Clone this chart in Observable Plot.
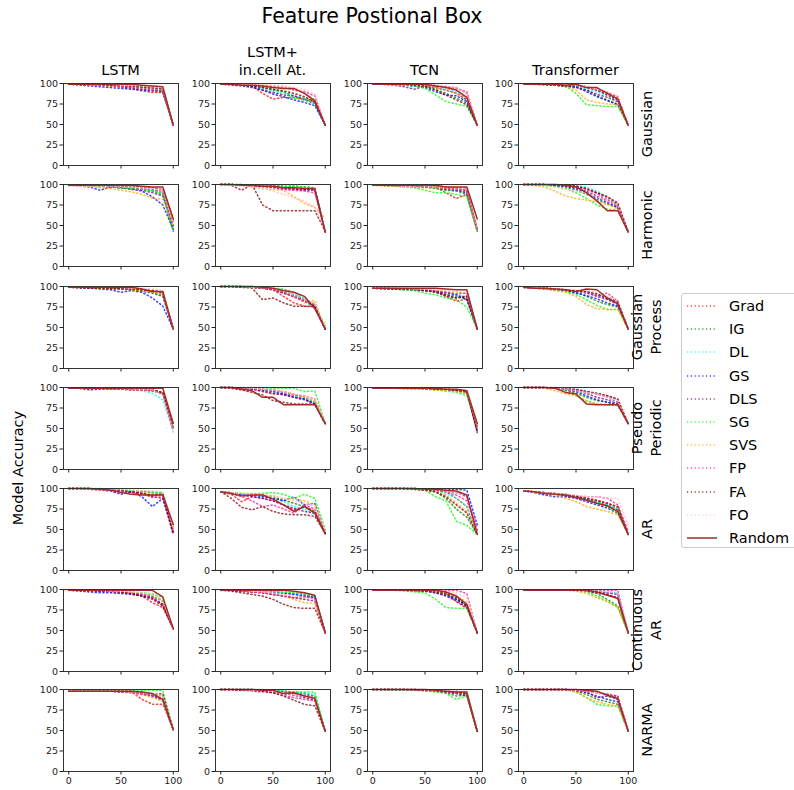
<!DOCTYPE html>
<html><head><meta charset="utf-8">
<script src="https://cdn.jsdelivr.net/npm/d3@7"></script>
<script src="https://cdn.jsdelivr.net/npm/@observablehq/plot@0.6"></script>
<style>
body{margin:0;background:#fff;overflow:hidden;}
#fig{position:relative;width:794px;height:790px;font-family:"DejaVu Sans",sans-serif;color:#000;overflow:hidden;background:#fff;}
.abs{position:absolute;white-space:nowrap;}
.ctr{transform:translateX(-50%);text-align:center;}
.rot{position:absolute;transform:translate(-50%,-50%) rotate(-90deg);white-space:nowrap;text-align:center;}
.panel{position:absolute;}
</style>
</head><body><div id="fig"></div>
<script>
// ---------------- data ----------------
const methods = ["Grad","IG","DL","GS","DLS","SG","SVS","FP","FA","FO","Random"];
const models = ["LSTM", "LSTM+\nin.cell At.", "TCN", "Transformer"];
const datasets = ["Gaussian","Harmonic","Gaussian\nProcess","Pseudo\nPeriodic","AR","Continuous\nAR","NARMA"];
const xSteps = [0,10,20,30,40,50,60,70,80,90,100];
const xTicks = [0,50,100];
const yTicks = [0,25,50,75,100];

// each panel: rows in method order (Grad, IG, DL, GS, DLS, SG, SVS, FP, FA, FO, Random)
const gauss_lstm = [
 [99,99,98,98,97,96,94,91,89,89,49],[99,99,99,98,98,97,96,95,93,91,49],[99,99,99,98,98,97,96,95,94,92,49],
 [99,98,97,96,95,94,93,92,91,90,49],[99,99,98,98,97,96,95,93,92,91,49],[99,99,99,99,98,98,97,96,95,93,49],
 [99,99,98,98,97,97,96,95,93,92,49],[99,99,99,98,98,97,96,95,94,93,49],[99,99,99,99,98,98,97,96,95,94,49],
 [99,99,99,99,99,98,98,97,96,95,49],[99,99,99,99,99,99,99,98,97,96,49]];
const gauss_att = [
 [99,99,98,97,88,81,83,83,81,78,49],[99,99,98,97,95,92,90,85,82,78,49],[99,99,98,97,94,90,88,85,82,75,49],
 [99,99,98,96,92,87,84,80,77,73,49],[99,98,97,95,92,89,86,85,80,76,49],[99,99,98,98,96,93,90,82,80,77,49],
 [99,99,99,99,98,97,97,93,88,80,49],[99,99,99,98,97,96,95,92,90,85,49],[99,99,98,97,95,93,91,88,84,78,49],
 [99,99,99,99,99,98,97,95,93,87,49],[99,99,98,98,97,95,94,94,88,79,49]];
const gauss_tcn = [
 [99,99,99,99,99,98,97,96,95,88,49],[99,99,99,98,97,96,93,88,82,76,49],[99,99,99,98,97,97,95,93,90,80,49],
 [99,99,99,98,97,95,90,86,85,78,49],[99,99,98,96,93,97,95,92,88,80,49],[99,99,98,98,97,94,86,78,75,72,49],
 [99,99,99,98,98,97,95,92,88,82,49],[99,99,99,99,99,99,98,96,94,90,49],[99,99,99,99,98,97,92,86,80,74,49],
 [99,99,99,99,99,99,98,97,95,88,49],[99,99,99,99,99,99,97,95,92,83,49]];
const gauss_tf = [
 [99,99,99,98,97,97,96,93,89,84,49],[99,99,98,98,97,96,92,85,80,75,49],[99,99,99,98,98,97,94,90,85,78,49],
 [99,99,99,98,97,96,90,84,79,74,49],[99,99,99,98,96,95,92,87,83,78,49],[99,99,99,98,97,88,74,73,72,72,49],
 [99,99,99,98,97,92,80,77,75,74,49],[99,99,99,99,98,99,96,92,88,82,49],[99,99,99,98,97,98,95,92,86,80,49],
 [99,99,99,99,99,98,96,93,90,85,49],[99,99,99,99,98,99,95,95,88,81,49]];

const harm_lstm = [
 [99,99,99,98,98,97,96,95,93,90,45],[99,99,98,98,97,96,95,94,92,88,43],[99,99,99,98,98,97,96,95,93,90,48],
 [99,98,97,93,97,96,94,92,85,75,45],[99,99,98,98,97,96,95,93,90,86,50],[99,99,98,97,97,96,95,94,92,88,44],
 [99,99,98,96,95,93,91,88,83,82,50],[99,99,99,99,98,98,97,96,94,92,55],[99,99,99,99,99,98,98,97,96,94,58],
 [98,98,98,98,98,97,97,96,95,93,55],[99,99,99,99,99,99,99,98,97,97,58]];
const harm_att = [
 [100,100,99,99,98,97,96,95,94,93,42],[100,100,100,99,99,99,98,98,97,96,42],[100,100,99,99,99,98,97,96,96,95,42],
 [100,100,99,99,98,97,95,94,93,95,42],[100,100,99,99,98,97,96,95,94,93,42],[100,100,100,99,99,99,98,98,97,96,42],
 [100,99,99,97,95,94,93,85,77,72,59],[100,100,99,98,97,96,94,93,92,90,42],[100,99,93,100,75,68,68,68,68,68,43],
 [99,99,98,97,95,92,88,84,80,72,45],[100,100,99,99,98,98,96,96,95,95,42]];
const harm_tcn = [
 [99,99,99,99,98,98,97,90,83,88,43],[99,99,99,98,98,97,95,93,92,88,43],[99,99,99,98,98,98,97,96,95,93,45],
 [99,99,98,98,97,97,96,94,93,90,45],[99,99,98,98,98,97,97,95,93,92,45],[99,99,98,97,96,93,90,90,88,85,43],
 [99,98,98,97,97,96,96,95,94,93,45],[99,99,99,98,98,97,97,96,95,93,45],[99,99,99,99,98,98,98,97,96,95,45],
 [99,99,99,98,98,98,97,97,96,95,45],[99,99,99,99,99,99,99,97,97,97,58]];
const harm_tf = [
 [100,100,100,99,99,98,95,90,85,78,42],[100,100,99,98,97,93,88,82,76,72,42],[100,100,100,100,100,99,97,92,85,76,42],
 [100,100,100,99,98,95,90,84,78,72,42],[100,100,100,99,98,96,92,86,80,74,42],[100,100,99,97,95,90,83,75,70,69,42],
 [100,99,97,92,86,83,81,79,76,70,42],[100,100,100,99,99,97,94,89,82,74,42],[100,100,100,99,99,98,95,90,85,76,42],
 [100,100,99,97,94,92,90,85,80,75,42],[100,100,100,100,99,97,90,80,68,68,42]];

const gp_lstm = [
 [99,99,99,99,98,98,97,96,95,92,48],[99,99,99,98,98,97,96,95,93,90,48],[99,99,99,98,98,97,96,95,92,88,48],
 [99,99,98,97,96,93,95,93,86,76,48],[99,99,98,98,97,97,96,94,92,88,48],[99,99,99,98,98,97,96,95,93,90,50],
 [99,99,99,98,98,97,96,95,93,90,48],[99,99,99,99,98,98,97,96,95,93,48],[99,98,98,98,98,97,97,96,95,93,48],
 [99,99,99,99,99,99,98,98,97,96,48],[99,99,99,99,99,99,99,97,94,94,48]];
const gp_att = [
 [100,100,100,99,98,96,88,80,76,75,48],[100,100,100,99,98,96,92,88,82,75,48],[100,100,100,99,99,97,94,90,85,78,48],
 [100,100,100,99,98,97,94,90,84,76,48],[100,100,99,99,98,96,92,88,83,76,48],[100,100,100,100,99,98,97,93,85,78,52],
 [100,100,100,99,98,97,94,88,80,83,48],[100,100,100,99,98,96,93,87,82,78,48],[100,100,99,98,84,86,80,76,76,76,48],
 [100,100,100,99,99,98,95,90,84,80,48],[100,100,100,100,99,98,95,93,88,73,48]];
const gp_tcn = [
 [98,98,98,97,97,97,95,88,82,85,48],[98,97,97,97,96,95,93,90,88,85,48],[98,98,97,97,97,96,95,93,90,88,48],
 [98,98,97,97,96,95,94,92,90,84,48],[98,97,97,96,96,95,93,88,86,88,48],[98,98,97,96,95,92,90,86,84,75,48],
 [98,98,98,97,97,96,95,94,93,92,48],[98,98,97,97,97,96,95,93,91,92,48],[98,98,97,97,96,95,94,90,86,88,48],
 [98,98,98,98,97,97,96,95,94,93,48],[98,98,98,98,98,98,98,97,96,96,48]];
const gp_tf = [
 [99,98,98,97,96,95,94,90,85,80,48],[99,98,97,96,95,93,88,82,78,75,48],[99,98,98,97,96,95,93,90,86,80,48],
 [99,98,97,96,95,92,89,85,80,76,48],[99,98,98,97,96,94,92,88,84,78,48],[99,98,97,96,94,90,84,77,72,72,48],
 [99,98,97,95,93,88,78,73,72,72,48],[99,98,98,97,96,95,94,88,92,82,48],[99,99,98,97,96,95,94,91,86,82,48],
 [99,99,98,97,97,96,95,93,88,83,48],[99,98,98,97,96,94,97,96,86,79,48]];

const pp_lstm = [
 [99,99,99,99,99,99,99,98,97,93,50],[99,99,99,99,99,98,98,98,97,94,52],[99,99,99,99,99,98,97,96,93,85,46],
 [99,99,97,98,98,98,98,97,96,92,48],[99,99,99,99,98,98,97,97,96,92,48],[99,99,99,99,99,98,98,97,96,93,52],
 [99,99,99,99,98,98,97,97,96,93,50],[99,99,99,99,98,98,97,97,96,93,48],[99,99,99,99,99,99,98,98,97,94,55],
 [99,99,99,99,99,99,98,98,97,90,45],[99,99,99,99,99,99,99,99,99,99,56]];
const pp_att = [
 [100,100,99,98,95,92,92,90,86,80,56],[100,100,99,99,98,97,95,92,88,82,56],[100,100,99,99,98,96,94,90,86,82,56],
 [100,100,99,98,97,95,92,88,86,80,56],[100,100,99,98,96,93,91,88,85,80,56],[100,100,100,100,100,99,99,99,95,96,56],
 [100,100,99,99,98,97,95,92,88,84,56],[100,100,99,99,98,97,94,91,90,86,56],[100,99,97,94,91,84,82,80,80,80,56],
 [100,100,100,99,98,97,95,92,90,86,56],[100,100,98,96,88,88,79,79,79,79,56]];
const pp_tcn = [
 [99,99,99,99,99,99,98,98,97,96,52],[99,99,99,99,99,98,98,97,96,93,50],[99,99,99,99,99,98,98,97,96,94,50],
 [99,99,99,99,99,98,98,97,96,95,48],[99,99,99,99,99,98,98,97,96,94,45],[99,99,99,99,98,98,97,96,94,90,52],
 [99,99,99,98,98,98,97,96,95,93,52],[99,99,99,99,99,99,98,98,97,96,52],[99,99,99,99,99,99,98,98,97,96,45],
 [99,99,99,99,99,99,99,98,98,97,55],[99,99,99,99,99,99,99,98,98,96,56]];
const pp_tf = [
 [100,100,100,99,98,97,95,92,90,85,56],[100,100,100,99,97,93,88,84,82,80,56],[100,100,100,100,99,98,96,93,88,82,56],
 [100,100,100,99,97,95,90,85,82,78,56],[100,100,100,99,98,96,93,88,85,80,56],[100,100,100,99,96,90,84,80,79,78,56],
 [100,100,99,96,92,90,83,80,79,78,56],[100,100,100,100,99,98,95,92,88,82,56],[100,100,100,99,98,97,95,93,90,86,56],
 [100,100,100,99,98,96,94,92,88,84,56],[100,100,100,99,94,92,80,79,79,79,56]];

const ar_lstm = [
 [100,100,100,99,98,97,96,94,90,88,48],[100,100,100,99,99,98,97,96,95,94,50],[100,100,100,99,99,98,97,96,96,95,52],
 [100,100,99,98,97,93,96,90,78,88,44],[100,100,100,99,98,97,95,94,92,93,46],[100,100,100,100,99,98,98,97,96,95,54],
 [100,100,99,98,98,97,96,95,94,94,50],[100,100,100,99,98,97,96,94,89,90,48],[100,100,100,99,99,98,96,94,91,93,44],
 [100,100,100,100,99,99,98,98,97,96,52],[100,100,100,99,98,95,93,92,92,92,56]];
const ar_att = [
 [96,93,84,90,88,85,80,74,78,72,45],[96,95,93,93,92,90,86,82,78,72,45],[96,95,93,92,91,88,84,78,75,68,45],
 [96,95,93,92,90,88,85,90,80,82,45],[96,94,92,90,88,85,80,76,72,70,45],[96,95,94,94,94,95,93,88,93,88,50],
 [96,95,94,93,92,91,88,87,85,80,48],[96,94,90,85,78,80,75,70,80,75,45],[96,88,77,74,78,72,69,68,68,66,45],
 [96,95,94,93,92,90,88,85,82,78,48],[96,94,91,92,92,87,80,72,78,70,45]];
const ar_tcn = [
 [100,100,100,100,99,99,98,96,88,78,44],[100,100,100,100,99,98,96,88,75,65,44],[100,100,100,100,99,98,97,94,88,78,44],
 [100,100,100,100,100,99,99,98,99,98,56],[100,100,100,100,100,99,98,97,95,90,50],[100,100,100,100,99,98,90,85,60,55,44],
 [100,100,100,100,99,98,96,92,82,72,48],[100,100,100,100,100,99,98,96,92,85,52],[100,100,100,100,99,98,96,90,80,70,44],
 [100,100,100,100,100,99,99,97,95,88,50],[100,100,100,100,100,99,99,98,97,92,44]];
const ar_tf = [
 [97,96,95,93,92,90,88,86,82,76,44],[97,96,95,93,92,90,87,84,80,74,44],[97,96,94,93,92,90,87,84,80,76,44],
 [97,95,92,90,90,88,84,80,76,70,44],[97,96,94,93,91,89,86,82,78,72,44],[97,96,95,94,93,90,86,82,78,70,44],
 [97,96,94,92,88,84,78,75,72,68,44],[97,96,95,94,92,91,90,90,88,80,48],[97,96,95,94,93,91,88,85,82,78,44],
 [97,96,95,94,93,92,90,90,88,88,55],[97,96,94,93,92,89,86,82,79,72,44]];

const car_lstm = [
 [99,99,99,98,98,97,95,92,84,78,52],[99,99,99,98,98,97,96,95,92,86,52],[99,99,99,98,98,97,96,95,94,88,52],
 [99,98,97,96,96,95,94,92,90,82,52],[99,99,98,98,97,96,95,93,90,82,52],[99,99,99,99,98,98,97,96,95,90,52],
 [99,99,99,98,98,97,96,95,93,86,52],[99,99,99,98,98,97,96,94,90,80,52],[99,99,99,98,98,97,95,92,88,80,52],
 [99,99,99,99,98,98,97,96,94,88,52],[99,99,99,99,99,99,99,99,99,91,52]];
const car_att = [
 [99,99,98,97,96,94,92,90,90,92,47],[99,99,99,98,98,97,96,95,94,91,47],[99,99,99,98,98,97,96,95,93,90,47],
 [99,99,98,98,97,96,95,94,92,90,47],[99,99,98,97,96,94,92,90,88,86,47],[99,99,99,99,98,98,97,96,95,92,47],
 [99,99,99,98,97,95,92,88,84,83,47],[99,99,98,97,96,94,92,90,92,88,47],[99,98,96,94,92,88,82,78,77,77,47],
 [99,99,99,98,97,96,94,92,90,88,47],[99,99,99,99,99,99,99,98,96,93,47]];
const car_tcn = [
 [99,99,99,99,99,99,98,96,85,77,47],[99,99,99,99,98,98,97,94,88,80,47],[99,99,99,99,99,98,97,95,90,82,47],
 [99,99,99,99,98,98,96,93,88,80,47],[99,99,99,99,98,98,96,92,86,78,47],[99,99,99,98,97,96,88,78,77,77,47],
 [99,99,99,99,98,98,97,95,92,85,47],[99,99,99,99,99,99,99,99,99,95,47],[99,99,99,99,99,98,97,95,90,80,47],
 [99,99,99,99,99,99,99,98,96,90,47],[99,99,99,99,99,99,99,97,92,82,47]];
const car_tf = [
 [99,99,99,99,99,99,99,98,96,95,47],[99,99,99,99,99,99,98,95,88,80,47],[99,99,99,99,99,99,99,99,98,96,47],
 [99,99,99,99,99,99,99,98,96,94,47],[99,99,99,99,99,99,98,96,93,90,47],[99,99,99,99,99,99,97,92,86,78,47],
 [99,99,99,99,99,98,95,90,85,78,47],[99,99,99,99,99,99,99,99,99,99,47],[99,99,99,99,99,99,99,97,94,90,47],
 [99,99,99,99,99,99,99,98,97,95,47],[99,99,99,99,99,99,99,97,93,89,47]];

const narma_lstm = [
 [98,98,98,98,98,98,97,88,82,82,51],[98,98,98,98,98,98,98,97,94,92,51],[98,98,98,98,98,97,97,96,92,85,51],
 [98,98,98,98,98,97,97,96,93,88,51],[98,98,98,98,98,97,97,95,92,87,51],[99,99,99,99,99,99,99,99,99,99,51],
 [98,98,98,98,98,97,96,94,90,86,51],[98,98,98,98,98,97,96,94,92,88,51],[98,98,98,98,98,98,97,96,94,95,51],
 [98,98,98,98,98,98,97,96,94,92,51],[98,98,98,98,98,98,98,97,95,88,51]];
const narma_att = [
 [100,100,100,99,99,98,97,95,92,90,49],[100,100,100,100,99,99,98,97,95,92,49],[100,100,100,100,99,99,98,97,96,94,49],
 [100,100,100,100,99,98,97,95,93,90,49],[100,100,99,99,98,97,95,93,90,87,49],[100,100,100,100,100,99,98,97,97,97,49],
 [100,100,100,99,99,98,96,94,92,90,49],[100,100,99,98,97,96,93,90,88,86,49],[100,100,99,99,98,96,92,87,82,80,49],
 [100,100,100,99,99,98,96,94,92,90,49],[100,100,100,100,99,99,95,96,92,89,49]];
const narma_tcn = [
 [100,100,100,100,100,99,99,98,98,96,49],[100,100,100,99,99,99,98,96,92,93,49],[100,100,100,100,100,99,99,98,97,95,49],
 [100,100,100,100,99,99,99,97,95,94,49],[100,100,100,100,99,99,98,97,95,92,49],[100,100,99,99,99,98,97,95,88,92,49],
 [100,100,100,100,100,99,99,98,96,95,49],[100,100,100,100,99,99,98,97,96,95,49],[100,100,100,100,100,99,99,98,97,95,49],
 [100,100,100,100,100,100,99,99,98,98,49],[100,100,100,100,100,100,99,98,97,97,49]];
const narma_tf = [
 [100,100,100,100,100,99,98,96,94,92,49],[100,100,100,100,100,98,94,88,85,82,49],[100,100,100,100,100,99,98,96,92,88,49],
 [100,100,100,100,100,99,96,92,88,85,49],[100,100,100,100,100,99,97,90,92,88,49],[100,100,100,100,100,97,90,82,80,80,49],
 [100,100,100,100,100,97,90,85,82,80,49],[100,100,100,100,100,99,98,96,94,92,49],[100,100,100,100,100,99,98,97,94,90,49],
 [100,100,100,100,100,99,98,96,93,90,49],[100,100,100,100,100,100,99,98,93,89,49]];

const panels = [
  [gauss_lstm, gauss_att, gauss_tcn, gauss_tf],
  [harm_lstm, harm_att, harm_tcn, harm_tf],
  [gp_lstm, gp_att, gp_tcn, gp_tf],
  [pp_lstm, pp_att, pp_tcn, pp_tf],
  [ar_lstm, ar_att, ar_tcn, ar_tf],
  [car_lstm, car_att, car_tcn, car_tf],
  [narma_lstm, narma_att, narma_tcn, narma_tf]
];

// ---------------- layout / style ----------------
const colors = ["red","green","cyan","blue","purple","lime","orange","deeppink","maroon","pink","#a52a2a"];
const colLeft = [63, 215, 367, 518];
const rowTop = [83, 184, 286, 387, 488, 589, 689];
const PW = 115, PH = 82, ML = 30, MR = 3, MT = 3, MB = 20;
const DASH = "1.2,2.6";
const fig = document.getElementById("fig");

function addText(txt, x, y, size, cls, extra) {
  const d = document.createElement("div");
  d.className = cls;
  d.style.left = x + "px"; d.style.top = y + "px";
  d.style.fontSize = size + "px";
  if (extra) Object.assign(d.style, extra);
  d.innerHTML = txt.split("\n").join("<br>");
  fig.appendChild(d);
  return d;
}

panels.forEach((row, r) => {
  row.forEach((panel, c) => {
    const recs = [];
    panel.forEach((vals, i) => vals.forEach((v, j) => recs.push({method: methods[i], x: xSteps[j], y: v})));
    const bottom = r === panels.length - 1;
    const chart = Plot.plot({
      width: ML + PW + MR, height: MT + PH + MB,
      marginLeft: ML, marginRight: MR, marginTop: MT, marginBottom: MB,
      x: {domain: [-5, 105], ticks: xTicks, tickSize: 3.5, tickPadding: 2, label: null,
          tickFormat: bottom ? (d => String(d)) : (() => "")},
      y: {domain: [0, 100], ticks: yTicks, tickSize: 3.5, tickPadding: 2, label: null},
      color: {domain: methods, range: colors},
      style: {fontSize: "9.5px", fontFamily: "DejaVu Sans, sans-serif", color: "#222", background: "transparent", overflow: "visible"},
      marks: [
        Plot.line(recs.filter(d => d.method !== "Random"), {x: "x", y: "y", z: "method", stroke: "method",
          strokeWidth: 1.5, strokeDasharray: DASH, strokeOpacity: 0.75}),
        Plot.line(recs.filter(d => d.method === "Random"), {x: "x", y: "y", stroke: "method", strokeWidth: 1.5}),
        Plot.frame({stroke: "#333", strokeWidth: 1})
      ]
    });
    chart.classList.add("panel");
    chart.style.left = (colLeft[c] - ML) + "px";
    chart.style.top = (rowTop[r] - MT) + "px";
    fig.appendChild(chart);
  });
});

// title
addText("Feature Postional Box", 372, 4, 20.5, "abs ctr");
// column titles
models.forEach((m, c) => {
  const lines = m.split("\n").length;
  addText(m, colLeft[c] + PW / 2, 78 - lines * 18 + 1, 14.5, "abs ctr", {lineHeight: "18px"});
});
// row labels
datasets.forEach((ds, r) => {
  addText(ds, 647, rowTop[r] + PH / 2, 14.5, "rot", {lineHeight: "19px"});
});
// y label
addText("Model Accuracy", 18, 468, 14.5, "rot");

// legend
const leg = document.createElement("div");
leg.className = "abs";
Object.assign(leg.style, {left: "681px", top: "293px", width: "130px", height: "255px",
  border: "1px solid #ccc", borderRadius: "3px", background: "#fff", boxSizing: "border-box"});
fig.appendChild(leg);
methods.forEach((m, i) => {
  const y = 12 + i * 23.2;
  const sw = document.createElementNS("http://www.w3.org/2000/svg", "svg");
  sw.setAttribute("width", 32); sw.setAttribute("height", 6);
  Object.assign(sw.style, {position: "absolute", left: "4px", top: (y - 3) + "px"});
  const ln = document.createElementNS("http://www.w3.org/2000/svg", "line");
  ln.setAttribute("x1", 1); ln.setAttribute("x2", 31); ln.setAttribute("y1", 3); ln.setAttribute("y2", 3);
  ln.setAttribute("stroke", colors[i]); ln.setAttribute("stroke-width", 1.5);
  if (m !== "Random") { ln.setAttribute("stroke-dasharray", DASH); ln.setAttribute("stroke-opacity", 0.75); }
  sw.appendChild(ln);
  leg.appendChild(sw);
  const t = document.createElement("div");
  Object.assign(t.style, {position: "absolute", left: "47px", top: (y - 9) + "px", fontSize: "14.5px", lineHeight: "18px"});
  t.textContent = m;
  leg.appendChild(t);
});
</script>
</body></html>
